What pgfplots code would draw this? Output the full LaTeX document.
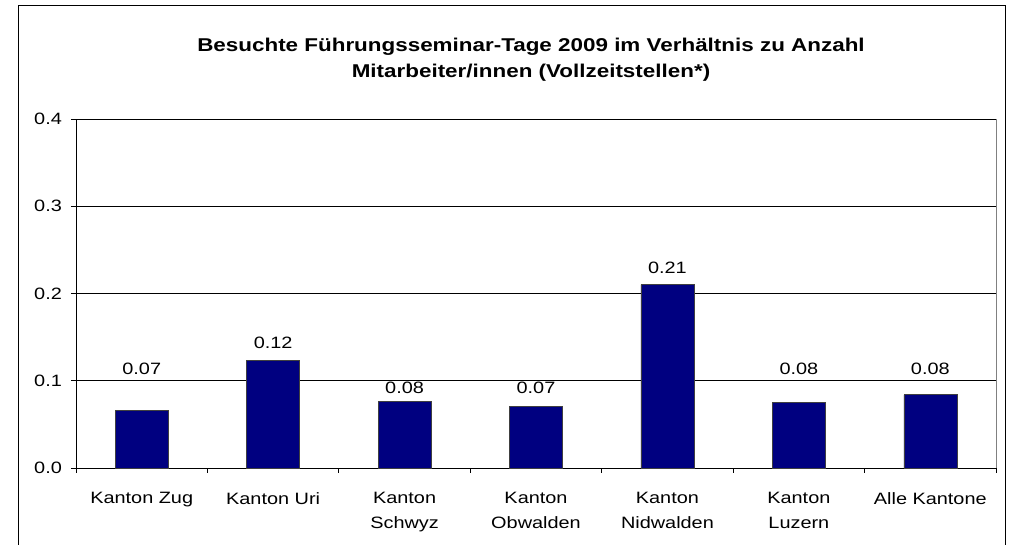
\documentclass[border=0pt]{standalone}
\usepackage{pgfplots}
\pgfplotsset{compat=1.18}
\usepackage{fontspec}
\setmainfont{Liberation Sans}
\definecolor{barblue}{HTML}{000080}
\begin{document}
\begin{tikzpicture}[x=1bp,y=1bp]
\useasboundingbox (0,0) rectangle (1014,545);
\draw[line width=1bp] (18,-10) -- (18,539.5) -- (1005,539.5) -- (1005,-10);
\node[align=center,xscale=1.21,font=\fontsize{18.6}{26}\selectfont\bfseries] at (531,485) {Besuchte Führungsseminar-Tage 2009 im Verhältnis zu Anzahl\\Mitarbeiter/innen (Vollzeitstellen*)};
\begin{axis}[
  at={(76bp,77bp)}, anchor=south west,
  scale only axis, width=920bp, height=349bp,
  xmin=-0.5, xmax=6.5, ymin=0, ymax=0.4,
  axis x line=bottom, axis y line=left,
  axis line style={-, black, line width=0.8bp},
  ytick={0,0.1,0.2,0.3,0.4},
  yticklabel style={/pgf/number format/fixed, /pgf/number format/fixed zerofill, /pgf/number format/precision=1, xshift=-4bp},
  /pgf/number format/assume math mode=true,
  ymajorgrids, grid style={black, line width=0.8bp},
  xtick={0,...,6},
  xticklabels={Kanton Zug, Kanton Uri, Kanton\\Schwyz, Kanton\\Obwalden, Kanton\\Nidwalden, Kanton\\Luzern, Alle Kantone},
  ticklabel style={font=\fontsize{16.5}{20}\selectfont, xscale=1.21},
  xticklabel style={align=center, font=\fontsize{16.5}{25}\selectfont, anchor=north, yshift=-16bp},
  major x tick style={draw=none},
  minor xtick={-0.5,0.5,...,6.5},
  tick align=outside,
  major tick length=5bp, minor tick length=5bp,
  tick style={black, line width=0.8bp},
  clip=false,
]
\addplot[ybar, bar width=53bp, fill=barblue, draw=gray!50!black, line width=0.6bp] coordinates {
(0,0.0663) (1,0.1230) (2,0.0762) (3,0.0705) (4,0.2103) (5,0.0755) (6,0.0839)};
\addplot[only marks, mark=none, nodes near coords, point meta=explicit symbolic,
  nodes near coords align=center, every node near coord/.style={font=\fontsize{16.5}{20}\selectfont, xscale=1.21, anchor=center}] coordinates {
(0,0.1138)[0.07] (1,0.1437)[0.12] (2,0.0920)[0.08] (3,0.0920)[0.07] (4,0.2299)[0.21] (5,0.1138)[0.08] (6,0.1138)[0.08]};
\draw[gray, line width=0.8bp] (rel axis cs:1,0) -- (rel axis cs:1,1);
\end{axis}
\end{tikzpicture}
\end{document}
